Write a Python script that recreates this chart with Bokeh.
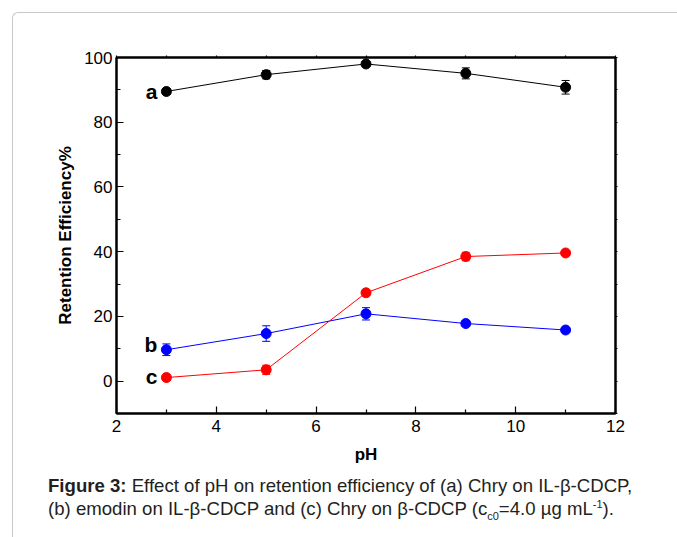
from bokeh.plotting import figure
from bokeh.models import (Range1d, FixedTicker, LinearAxis, Whisker, ColumnDataSource,
                          Div, Label, TeeHead)
from bokeh.layouts import column
from bokeh.embed import file_html
from bokeh.resources import INLINE

# ---- data ----
ph = [3, 5, 7, 9, 11]
a_vals = [89.5, 94.7, 98.0, 95.1, 90.8]
a_err = [0.8, 1.3, 0.8, 1.7, 2.1]
b_vals = [9.7, 14.7, 20.8, 17.8, 15.8]
b_err = [1.8, 2.4, 1.9, 0.8, 0.7]
c_vals = [1.1, 3.5, 27.3, 38.5, 39.6]
c_err = [0.8, 1.4, 0.8, 1.3, 0.8]
x_ticks = [2, 4, 6, 8, 10, 12]
x_minor = [3, 5, 7, 9, 11]
y_ticks = [0, 20, 40, 60, 80, 100]
y_minor = [-10, 10, 30, 50, 70, 90]
series_names = ["a", "b", "c"]
series_colors = ["black", "#0000ff", "#ff0000"]

FONT = "Liberation Sans"
W, H = 677, 470
OFF = 13  # page box offset (margin 12 + 1px border)

p = figure(width=W - 12, height=H - 12, x_range=Range1d(2, 12), y_range=Range1d(-10, 100),
           output_backend="svg", toolbar_location=None,
           min_border_left=116 - OFF, min_border_right=63, min_border_top=57 - OFF,
           min_border_bottom=58)
p.margin = (12, 0, 0, 12)
p.styles = {"border-top": "1px solid #c8c8c8", "border-left": "1px solid #c8c8c8",
            "border-top-left-radius": "6px"}
p.xgrid.visible = False
p.ygrid.visible = False
p.background_fill_color = "white"
p.border_fill_alpha = 0
p.outline_line_color = "black"
p.outline_line_width = 2

def style_axis(ax):
    ax.axis_line_width = 2
    ax.axis_line_color = "black"
    ax.major_tick_in = 7
    ax.major_tick_out = 0
    ax.minor_tick_in = 4
    ax.minor_tick_out = 0
    ax.major_tick_line_width = 1.2
    ax.minor_tick_line_width = 1.2
    ax.major_label_text_font = FONT
    ax.major_label_text_color = "black"
    ax.major_label_text_font_size = "17px"
    ax.axis_label_text_font = FONT
    ax.axis_label_text_font_size = "17px"
    ax.axis_label_text_font_style = "bold"
    ax.axis_label_text_color = "black"

p.xaxis.ticker = FixedTicker(ticks=x_ticks, minor_ticks=x_minor)
p.yaxis.ticker = FixedTicker(ticks=y_ticks, minor_ticks=y_minor)
style_axis(p.xaxis[0])
style_axis(p.yaxis[0])
p.xaxis.axis_label = "pH"
p.yaxis.axis_label = "Retention Efficiency%"
p.xaxis.major_label_standoff = 6
p.yaxis.major_label_standoff = 4
p.xaxis.axis_label_standoff = 10
p.yaxis.axis_label_standoff = 6

# mirror axes on top / right: tiny outward marks only, no labels
for ticks, minor, place in ((x_ticks, x_minor, "above"), (y_ticks, y_minor, "right")):
    ax = LinearAxis(ticker=FixedTicker(ticks=[], minor_ticks=sorted(ticks + minor)))
    ax.axis_line_width = 2
    ax.axis_line_color = "black"
    ax.minor_tick_in = 0
    ax.minor_tick_out = 2
    ax.minor_tick_line_width = 1.2
    ax.major_tick_in = 0
    ax.major_tick_out = 0
    p.add_layout(ax, place)

series = [(a_vals, a_err), (b_vals, b_err), (c_vals, c_err)]
for (vals, errs), col in zip(series, series_colors):
    src = ColumnDataSource(dict(x=ph, y=vals,
                                upper=[v + e for v, e in zip(vals, errs)],
                                lower=[v - e for v, e in zip(vals, errs)]))
    p.line("x", "y", source=src, line_color=col, line_width=1)
    p.add_layout(Whisker(base="x", upper="upper", lower="lower", source=src,
                         line_color=col, line_width=1,
                         upper_head=TeeHead(size=8, line_color=col, line_width=1),
                         lower_head=TeeHead(size=8, line_color=col, line_width=1)))
    p.scatter("x", "y", source=src, size=10, fill_color=col, line_color=col)

label_pos = [(2.82, 89.6), (2.82, 11.3), (2.82, 1.4)]
for name, (lx, ly) in zip(series_names, label_pos):
    p.add_layout(Label(x=lx, y=ly, text=name, text_align="right", text_baseline="alphabetic",
                       text_font=FONT, text_font_size="21px", text_font_style="bold",
                       text_color="black"))

caption_html = (
    '<div style="font-family: \'Liberation Sans\', Arial, sans-serif; font-size:18.6px; '
    'line-height:23px; color:#231f20; padding-left:35px; padding-top:4px; white-space:nowrap;">'
    '<b>Figure 3:</b> Effect of pH on retention efficiency of (a) Chry on IL-β-CDCP,<br>'
    '(b) emodin on IL-β-CDCP and (c) Chry on β-CDCP (c<sub style="font-size:11px;line-height:0">c0</sub>'
    '=4.0 µg mL<sup style="font-size:11px;line-height:0">-1</sup>).</div>'
)
cap = Div(text=caption_html, width=W - 13, height=537 - H, margin=(0, 0, 0, 12),
          styles={"border-left": "1px solid #c8c8c8", "background": "white"})

layout = column(p, cap, spacing=0)
open("out.html", "w").write(file_html(layout, INLINE))
